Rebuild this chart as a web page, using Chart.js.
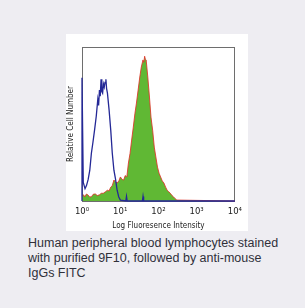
<!DOCTYPE html>
<html>
<head>
<meta charset="utf-8">
<script src="https://cdn.jsdelivr.net/npm/chart.js@4.4.0/dist/chart.umd.min.js"></script>
<style>
  html, body { margin: 0; padding: 0; }
  body { width: 305px; height: 308px; background: #eeedf2; position: relative; overflow: hidden; }
  #panel { position: absolute; left: 66px; top: 34px; width: 182px; height: 197px; background: #fff; }
  #caption { position: absolute; left: 28px; top: 236px; width: 270px;
    font-family: "Liberation Sans", Arial, sans-serif; font-size: 12.5px; line-height: 15px; color: #30303a; }
</style>
</head>
<body>
<div id="panel"><canvas id="flowChart" width="182" height="197"></canvas></div>
<div id="caption">Human peripheral blood lymphocytes stained<br>with purified 9F10, followed by anti-mouse<br>IgGs FITC</div>
<script>
// 對照組（藍線）
const blueX = [1, 1, 1.08, 1.2, 1.31, 1.45, 1.6, 1.76, 1.93, 2.13, 2.36, 2.59, 2.72, 2.86, 3.0, 3.15, 3.3, 3.46, 3.64, 3.82, 4.0, 4.22, 4.4, 4.63, 5.12, 5.65, 6.2, 6.84, 7.56, 8.3, 9.16, 10.1, 14, 14.6, 15.2, 38, 39.5, 41, 10000];
const blueY = [0, 80, 12, 8, 10, 14, 20, 31, 38, 46, 55, 66, 62, 72, 68, 79, 71, 70, 76, 74, 77, 79, 73, 70, 59, 46, 31, 20, 14, 7, 2.6, 0.6, 0, 3, 0, 0, 3, 0, 0];

// 9F10 染色（綠色填滿）
const greenX = [1, 1.1, 1.19, 1.3, 1.42, 1.6, 1.79, 2.0, 2.26, 2.5, 2.86, 3.2, 3.61, 4.1, 4.63, 5.1, 5.65, 6.2, 6.84, 7.5, 8.3, 9.2, 10.1, 11.2, 12.3, 13.5, 14.9, 16.4, 18.1, 19.9, 22.0, 24.3, 26.6, 29.4, 32.5, 35.6, 39.4, 41.5, 43.5, 45.5, 47.7, 52.7, 58.2, 63.8, 70.5, 77.8, 85.5, 94.4, 104, 114, 126, 139, 154, 169, 186, 205, 227, 250, 275, 303, 10000];
const greenY = [3, 4, 2.6, 4.5, 4, 2.5, 3, 4.5, 4.5, 3.5, 4, 5, 5, 6, 7, 6.5, 9, 10, 13.6, 12.5, 11.7, 13, 15.6, 14, 13.6, 16.5, 15.6, 24.7, 31, 39.6, 48, 57, 63.6, 72, 80.5, 87, 91.6, 90, 94, 92, 91.6, 80.5, 67.5, 54.5, 46, 35, 28.6, 22, 18, 15.6, 13, 11.7, 9, 7, 6, 5, 3.5, 2.6, 1.5, 0.6, 0];

// X 軸刻度
const tickValues = [1, 10, 100, 1000, 10000];
const tickLabels = ['10⁰', '10¹', '10²', '10³', '10⁴'];

const bluePoints = blueX.map((x, i) => ({ x: x, y: blueY[i] }));
const greenPoints = greenX.map((x, i) => ({ x: x, y: greenY[i] }));

// 畫外框
const framePlugin = {
  id: 'frame',
  beforeDatasetsDraw(chart) {
    const a = chart.chartArea;
    const ctx = chart.ctx;
    ctx.save();
    ctx.strokeStyle = '#6e6e6e';
    ctx.lineWidth = 1;
    ctx.strokeRect(Math.round(a.left) + 0.5, Math.round(a.top) + 0.5, Math.round(a.right - a.left) - 1, Math.round(a.bottom - a.top));
    ctx.restore();
  }
};

const ctxFlow = document.getElementById('flowChart').getContext('2d');
const flowChart = new Chart(ctxFlow, {
  type: 'line',
  data: {
    datasets: [
      {
        label: '9F10',
        data: greenPoints,
        order: 2,
        borderColor: 'rgba(222, 50, 40, 0.85)',
        backgroundColor: 'rgb(96, 184, 52)',
        borderWidth: 1,
        fill: 'origin',
        pointRadius: 0,
        tension: 0,
        clip: 2
      },
      {
        label: 'control',
        data: bluePoints,
        order: 1,
        borderColor: 'rgb(36, 40, 150)',
        borderWidth: 1.3,
        fill: false,
        pointRadius: 0,
        tension: 0,
        clip: 2
      }
    ]
  },
  options: {
    responsive: false,
    animation: false,
    layout: { padding: { top: 13, right: 8, left: 0, bottom: 0 } },
    plugins: { legend: { display: false }, tooltip: { enabled: false } },
    scales: {
      x: {
        type: 'logarithmic',
        min: 1,
        max: 10000,
        grid: { display: false, drawTicks: false },
        border: { display: false },
        afterBuildTicks: function(scale) {
          scale.ticks = tickValues.map(v => ({ value: v }));
        },
        afterFit: function(scale) { scale.height = 30; },
        ticks: {
          padding: 6,
          maxRotation: 0,
          autoSkip: false,
          color: '#222',
          font: { family: 'DejaVu Sans', size: 8.5 },
          callback: function(value, index) { return tickLabels[index]; }
        },
        title: {
          display: true,
          text: 'Log Fluoresence Intensity',
          color: '#222',
          padding: { top: 1, bottom: 0 },
          font: { family: 'DejaVu Sans Condensed', size: 8 }
        }
      },
      y: {
        min: 0,
        max: 100,
        grid: { display: false, drawTicks: false },
        border: { display: false },
        ticks: { display: false },
        afterFit: function(scale) { scale.width = 16; },
        title: {
          display: true,
          text: 'Relative Cell Number',
          color: '#222',
          padding: { top: 0, bottom: 0 },
          font: { family: 'DejaVu Sans Condensed', size: 8 }
        }
      }
    }
  },
  plugins: [framePlugin]
});
</script>
</body>
</html>
